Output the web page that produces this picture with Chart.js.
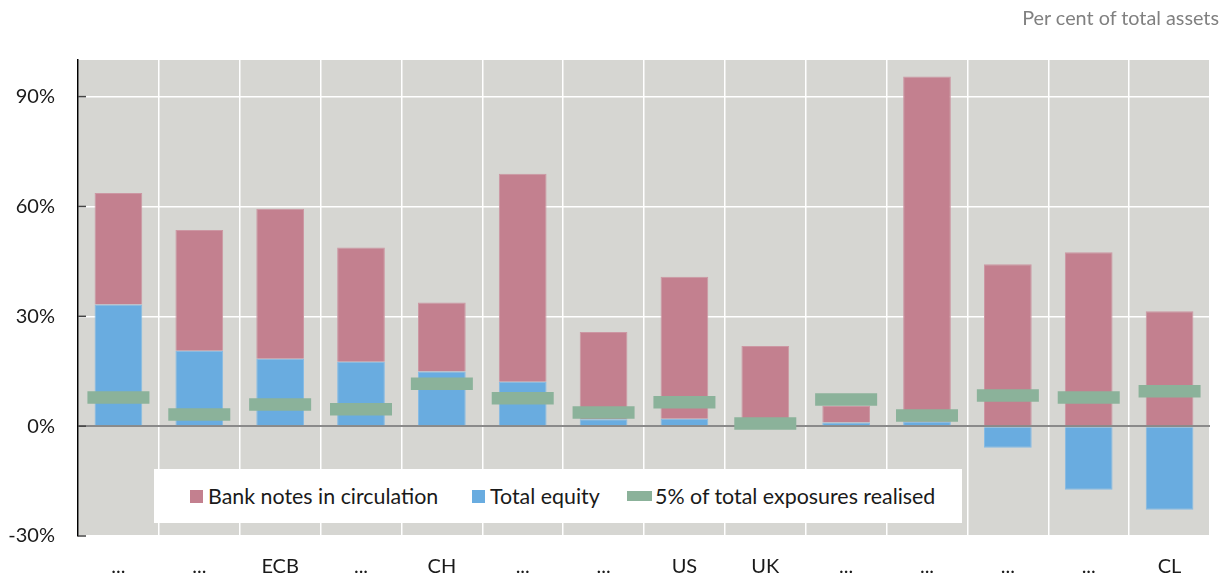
<!DOCTYPE html>
<html>
<head>
<meta charset="utf-8">
<script src="https://cdn.jsdelivr.net/npm/chart.js@4"></script>
<style>
  body { margin: 0; background: #fff; font-family: "Lato", sans-serif; }
  #wrap { position: relative; width: 1232px; height: 578px; }
  #unit { position: absolute; right: 13px; top: 5px; font-size: 19.8px; color: #808080; }
  #legend { position: absolute; left: 154px; top: 469px; width: 808px; height: 54px; background: #fff;
            font-size: 21.4px; color: #1a1a1a; }
  .sw { display: inline-block; margin-right: 5px; }
  .item { display: flex; align-items: center; position: absolute; top: 0; height: 54px; }
</style>
</head>
<body>
<div id="wrap">
  <canvas id="myChart" width="1232" height="578"></canvas>
  <div id="unit">Per cent of total assets</div>
  <div id="legend">
    <div class="item" style="left:36px"><span class="sw" style="width:13px;height:13px;background:#c3808f"></span>Bank notes in circulation</div>
    <div class="item" style="left:318px"><span class="sw" style="width:13px;height:13px;background:#69ace0"></span>Total equity</div>
    <div class="item" style="left:473px"><span class="sw" style="width:25px;height:10px;background:#8bb29a;margin-right:3px"></span>5% of total exposures realised</div>
  </div>
</div>
<script>
// chart data
const labels = ['...', '...', 'ECB', '...', 'CH', '...', '...', 'US', 'UK', '...', '...', '...', '...', 'CL'];
const totalEquity = [33.2, 20.6, 18.4, 17.6, 14.9, 12.1, 1.9, 2.0, 0.3, 1.0, 1.2, -5.9, -17.4, -22.8];
const bankNotes = [30.5, 33.0, 41.0, 31.2, 18.9, 56.8, 23.8, 38.8, 21.6, 4.5, 94.3, 44.2, 47.5, 31.4];
const exposures5 = [7.8, 3.2, 5.9, 4.6, 11.6, 7.6, 3.7, 6.5, 0.7, 7.3, 2.9, 8.4, 7.8, 9.5];
const yTicks = [-30, 0, 30, 60, 90];

const ctx = document.getElementById('myChart').getContext('2d');

// grey plot background + small inside tick marks on the y axis
const plotBg = {
    id: 'plotBg',
    beforeDraw(chart) {
        const a = chart.chartArea;
        const c = chart.ctx;
        c.save();
        c.fillStyle = '#d6d6d2';
        c.fillRect(a.left, a.top, a.right - a.left, a.bottom - a.top);
        c.restore();
    },
    afterDatasetsDraw(chart) {
        const y = chart.scales.y;
        const a = chart.chartArea;
        const c = chart.ctx;
        c.save();
        c.strokeStyle = '#444444';
        c.lineWidth = 1.5;
        yTicks.forEach(v => {
            const py = y.getPixelForValue(v);
            c.beginPath();
            c.moveTo(a.left, py);
            c.lineTo(a.left + 8, py);
            c.stroke();
        });
        c.restore();
    }
};

function noPad(scale) {
    scale.paddingLeft = 0;
    scale.paddingRight = 0;
    scale.paddingTop = 0;
    scale.paddingBottom = 0;
}

const tickFont = { family: 'Lato', size: 20 };

new Chart(ctx, {
    type: 'bar',
    data: {
        labels: labels,
        datasets: [
            {
                label: 'Total equity',
                data: totalEquity,
                backgroundColor: '#69ace0',
                borderColor: '#86bbe4',
                borderWidth: 1,
                stack: 'bars',
                order: 1
            },
            {
                label: 'Bank notes in circulation',
                data: bankNotes,
                backgroundColor: '#c3808f',
                borderColor: '#cc97a3',
                borderWidth: 1,
                stack: 'bars',
                order: 1
            },
            {
                label: '5% of total exposures realised',
                type: 'line',
                data: exposures5,
                showLine: false,
                stack: 'marker',
                pointStyle: 'line',
                pointRadius: 31,
                pointHoverRadius: 31,
                borderColor: '#8bb29a',
                borderWidth: 12.5,
                pointBorderWidth: 12.5,
                order: 0
            }
        ]
    },
    options: {
        responsive: false,
        animation: false,
        categoryPercentage: 1,
        barPercentage: 0.59,
        layout: { autoPadding: false, padding: { top: 60, right: 22, left: 0, bottom: 0 } },
        plugins: {
            legend: { display: false },
            tooltip: { enabled: false }
        },
        scales: {
            x: {
                stacked: true,
                grid: { color: '#ffffff', lineWidth: 1.5, drawTicks: false, offset: true },
                border: { display: false },
                ticks: { color: '#1a1a1a', font: tickFont, padding: 19, maxRotation: 0 },
                afterFit(scale) { scale.height = 42; noPad(scale); }
            },
            y: {
                stacked: true,
                min: -30,
                max: 100,
                afterBuildTicks(scale) {
                    scale.ticks = yTicks.map(v => ({ value: v }));
                },
                grid: {
                    drawTicks: false,
                    color: (c) => c.tick && c.tick.value === 0 ? '#8a8a8a' : '#ffffff',
                    lineWidth: (c) => c.tick && c.tick.value === 0 ? 2 : 1.5
                },
                border: { display: true, color: '#000000', width: 1.5 },
                ticks: {
                    color: '#1a1a1a',
                    font: tickFont,
                    padding: 23,
                    callback: (v) => v + '%'
                },
                afterFit(scale) { scale.width = 78; noPad(scale); }
            }
        }
    },
    plugins: [plotBg]
});
</script>
</body>
</html>
